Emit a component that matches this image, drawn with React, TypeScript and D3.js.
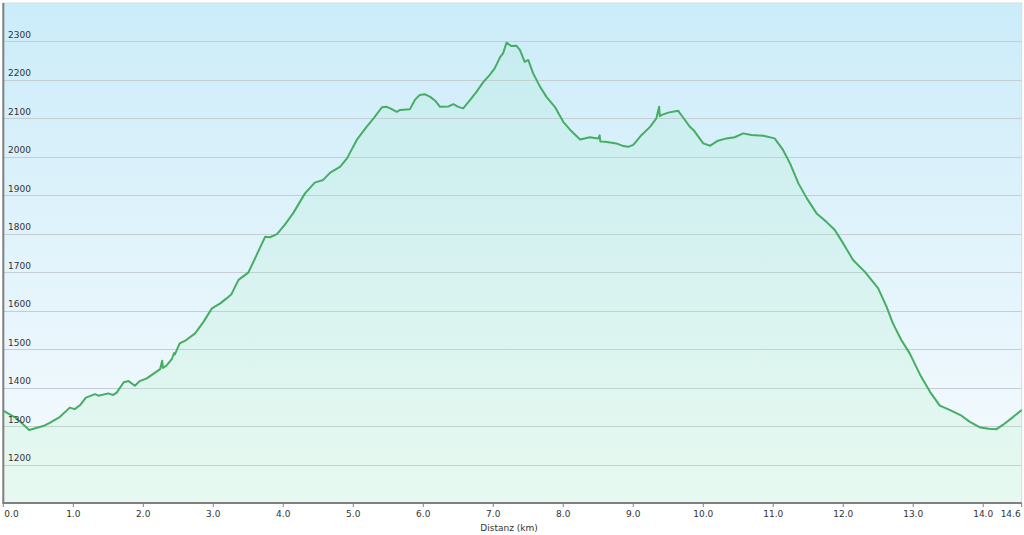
import React from "react";
import * as d3 from "d3";

const distanceKm = [
  0.0, 0.19, 0.37, 0.57, 0.67, 0.81, 0.95, 1.02, 1.1, 1.18, 1.31, 1.36, 1.5, 1.57, 1.62, 1.72, 1.79, 1.88, 1.95, 2.05,
  2.24, 2.27, 2.28, 2.33, 2.41, 2.44, 2.45, 2.52, 2.6, 2.74, 2.86, 2.98, 3.1, 3.19, 3.26, 3.36, 3.5, 3.62, 3.74, 3.81,
  3.91, 4.02, 4.14, 4.31, 4.45, 4.57, 4.67, 4.81, 4.91, 5.05, 5.19, 5.29, 5.41, 5.48, 5.55, 5.62, 5.67, 5.81, 5.88, 5.95,
  6.02, 6.1, 6.17, 6.24, 6.36, 6.43, 6.5, 6.57, 6.67, 6.76, 6.86, 6.95, 7.02, 7.1, 7.14, 7.19, 7.26, 7.33, 7.38, 7.45,
  7.5, 7.57, 7.67, 7.76, 7.88, 8.0, 8.1, 8.24, 8.38, 8.5, 8.52, 8.53, 8.6, 8.76, 8.86, 8.93, 9.0, 9.12, 9.24, 9.33,
  9.37, 9.38, 9.41, 9.5, 9.64, 9.71, 9.81, 9.86, 10.0, 10.1, 10.21, 10.33, 10.45, 10.57, 10.69, 10.86, 11.02, 11.14, 11.24, 11.36,
  11.48, 11.62, 11.76, 11.88, 12.0, 12.14, 12.31, 12.5, 12.62, 12.71, 12.83, 12.95, 13.1, 13.24, 13.38, 13.52, 13.69, 13.81, 13.96, 14.08,
  14.19, 14.28, 14.43, 14.55,
];

const elevationM = [
  1340, 1320, 1290, 1300, 1309, 1324, 1348, 1344, 1355, 1374, 1383, 1379, 1385, 1381, 1387, 1414, 1417, 1405, 1417, 1424,
  1448, 1470, 1451, 1457, 1475, 1490, 1486, 1515, 1522, 1541, 1571, 1606, 1619, 1632, 1643, 1680, 1699, 1745, 1792, 1791,
  1799, 1823, 1853, 1905, 1933, 1940, 1959, 1974, 1996, 2044, 2078, 2100, 2129, 2130, 2124, 2117, 2122, 2124, 2148, 2161,
  2163, 2156, 2146, 2130, 2131, 2137, 2130, 2126, 2148, 2169, 2195, 2213, 2230, 2260, 2269, 2297, 2288, 2289, 2278, 2247,
  2252, 2217, 2182, 2156, 2130, 2091, 2070, 2045, 2051, 2048, 2056, 2040, 2039, 2035, 2028, 2026, 2031, 2057, 2078, 2100,
  2130, 2106, 2109, 2115, 2120, 2103, 2078, 2070, 2035, 2029, 2042, 2048, 2051, 2061, 2057, 2055, 2048, 2018, 1983, 1931,
  1892, 1853, 1831, 1810, 1775, 1732, 1701, 1658, 1610, 1567, 1524, 1489, 1433, 1389, 1353, 1342, 1327, 1311, 1296, 1293,
  1292, 1303, 1324, 1342,
];

const xTicks = [0, 1, 2, 3, 4, 5, 6, 7, 8, 9, 10, 11, 12, 13, 14];
const xEndLabel = "14.6";
const yTicks = [1200, 1300, 1400, 1500, 1600, 1700, 1800, 1900, 2000, 2100, 2200, 2300];
const xTitle = "Distanz  (km)";

const W = 1024;
const H = 535;
const L = 3.3;
const R = 1021.7;
const T = 3;
const B = 503;

export default function App() {
  const x = d3.scaleLinear().domain([0, 14.55]).range([L, R]);
  const y = d3.scaleLinear().domain([1100, 2400]).range([B, T]);
  const pts = distanceKm.map((d, i) => [d, elevationM[i]] as [number, number]);
  const line = d3.line<[number, number]>().x((d) => x(d[0])).y((d) => y(d[1]))(pts) || "";
  const area =
    d3
      .area<[number, number]>()
      .x((d) => x(d[0]))
      .y0(B)
      .y1((d) => y(d[1]))(pts) || "";
  const font = "'DejaVu Sans', Verdana, sans-serif";
  return (
    <svg width={W} height={H} style={{ position: "absolute", left: 0, top: 0, background: "#fff" }}>
      <defs>
        <linearGradient id="sky" x1="0" y1="0" x2="0" y2="1">
          <stop offset="0" stopColor="#cbecf9" />
          <stop offset="1" stopColor="#f8fbfe" />
        </linearGradient>
        <linearGradient id="fill" x1="0" y1="0" x2="0" y2="1">
          <stop offset="0" stopColor="#8fe6b0" stopOpacity={0.12} />
          <stop offset="1" stopColor="#b2f2c4" stopOpacity={0.24} />
        </linearGradient>
      </defs>
      <rect x={L} y={T} width={R - L} height={B - T} fill="url(#sky)" stroke="#d8dde2" strokeWidth={1} />
      {yTicks.map((v) => (
        <line key={"g" + v} x1={L} x2={R} y1={Math.round(y(v)) + 0.5} y2={Math.round(y(v)) + 0.5} stroke="#c5cdd4" strokeWidth={1} />
      ))}
      <path d={area} fill="url(#fill)" />
      <path d={line} fill="none" stroke="#46ad64" strokeWidth={2} strokeLinejoin="round" />
      {yTicks.map((v) => (
        <text key={"t" + v} x={8} y={y(v) - 3.5} fontFamily={font} fontSize={9} fill="#333">
          {v}
        </text>
      ))}
      <line x1={L} x2={L} y1={T} y2={B} stroke="#808080" strokeWidth={2} />
      <line x1={L - 1} x2={R} y1={B} y2={B} stroke="#808080" strokeWidth={2} />
      {xTicks.map((v) => (
        <line key={"k" + v} x1={x(v)} x2={x(v)} y1={B} y2={B + 4} stroke="#808080" strokeWidth={1} />
      ))}
      <line x1={R} x2={R} y1={B} y2={B + 4} stroke="#808080" strokeWidth={1} />
      {xTicks.map((v) => (
        <text
          key={"x" + v}
          x={v === 0 ? x(v) + 1 : x(v)}
          y={517}
          textAnchor={v === 0 ? "start" : "middle"}
          fontFamily={font}
          fontSize={9}
          fill="#333"
        >
          {v.toFixed(1)}
        </text>
      ))}
      <text x={R - 1} y={517} textAnchor="end" fontFamily={font} fontSize={9} fill="#333">
        {xEndLabel}
      </text>
      <text x={509} y={531} textAnchor="middle" fontFamily={font} fontSize={9} fill="#333">
        {xTitle}
      </text>
    </svg>
  );
}
